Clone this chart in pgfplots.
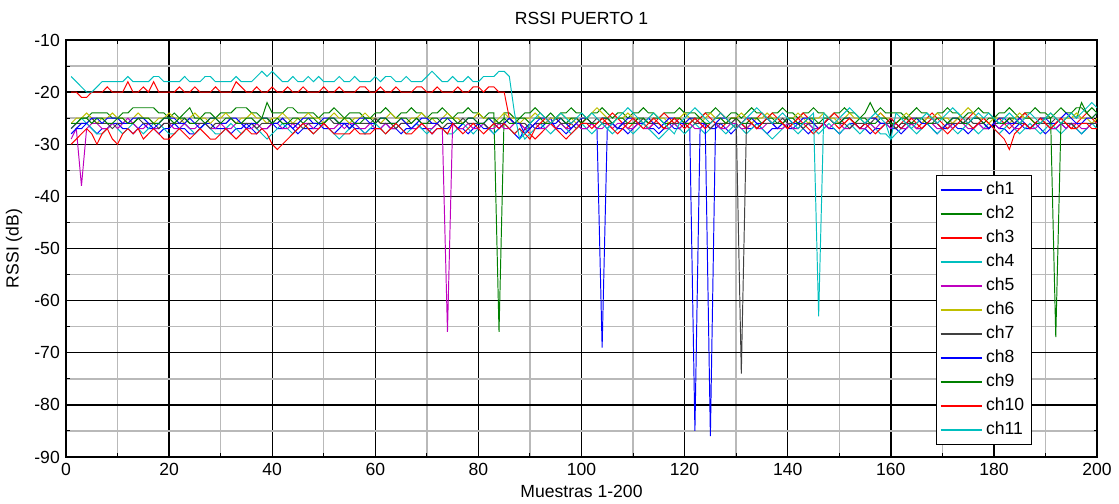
\documentclass[border=0pt]{standalone}
\usepackage{pgfplots}
\usepackage{pgfplotstable}
\pgfplotsset{compat=1.18}
\usepackage{fontspec}
\setmainfont{Liberation Sans}
\definecolor{mblue}{rgb}{0,0,1}
\definecolor{mred}{rgb}{1,0,0}
\definecolor{mgreen}{rgb}{0,0.5,0}
\definecolor{mcyan}{rgb}{0,0.75,0.75}
\definecolor{mmag}{rgb}{0.75,0,0.75}
\definecolor{molive}{rgb}{0.75,0.75,0}
\definecolor{mgray}{rgb}{0.25,0.25,0.25}

\pgfplotstableread[row sep=\\]{y\\
-28\\ -27\\ -27\\ -26\\ -27\\ -28\\ -27\\ -27\\ -26\\ -26\\ -27\\ -27\\ -28\\ -27\\ -26\\ -27\\ -27\\ -28\\ -27\\ -27\\
-26\\ -27\\ -27\\ -28\\ -28\\ -27\\ -26\\ -26\\ -27\\ -27\\ -27\\ -28\\ -27\\ -27\\ -26\\ -27\\ -28\\ -27\\ -27\\ -26\\
-27\\ -27\\ -26\\ -27\\ -28\\ -27\\ -27\\ -27\\ -26\\ -27\\ -27\\ -28\\ -27\\ -26\\ -26\\ -27\\ -27\\ -28\\ -27\\ -27\\
-27\\ -26\\ -27\\ -27\\ -28\\ -27\\ -27\\ -26\\ -27\\ -27\\ -28\\ -27\\ -27\\ -27\\ -26\\ -27\\ -27\\ -28\\ -27\\ -26\\
-27\\ -27\\ -28\\ -27\\ -26\\ -27\\ -28\\ -29\\ -27\\ -26\\ -27\\ -27\\ -26\\ -25\\ -27\\ -27\\ -28\\ -27\\ -26\\ -27\\
-27\\ -26\\ -27\\ -69\\ -27\\ -26\\ -27\\ -27\\ -28\\ -27\\ -26\\ -26\\ -27\\ -27\\ -28\\ -27\\ -26\\ -27\\ -27\\ -26\\
-27\\ -85\\ -27\\ -26\\ -27\\ -27\\ -26\\ -27\\ -28\\ -27\\ -26\\ -27\\ -27\\ -26\\ -27\\ -28\\ -27\\ -27\\ -26\\ -27\\
-27\\ -26\\ -27\\ -28\\ -27\\ -27\\ -26\\ -27\\ -27\\ -28\\ -27\\ -26\\ -26\\ -27\\ -27\\ -28\\ -27\\ -27\\ -26\\ -27\\
-27\\ -28\\ -27\\ -26\\ -27\\ -27\\ -26\\ -27\\ -28\\ -27\\ -27\\ -26\\ -27\\ -27\\ -28\\ -27\\ -26\\ -27\\ -27\\ -26\\
-27\\ -27\\ -28\\ -27\\ -26\\ -27\\ -27\\ -26\\ -27\\ -28\\ -27\\ -27\\ -26\\ -27\\ -26\\ -27\\ -28\\ -27\\ -26\\ -26\\
}\chone

\pgfplotstableread[row sep=\\]{y\\
-27\\ -26\\ -25\\ -25\\ -24\\ -24\\ -24\\ -24\\ -25\\ -25\\ -24\\ -24\\ -23\\ -23\\ -23\\ -23\\ -23\\ -24\\ -24\\ -25\\
-24\\ -25\\ -24\\ -23\\ -25\\ -25\\ -24\\ -24\\ -25\\ -24\\ -24\\ -24\\ -23\\ -23\\ -23\\ -24\\ -24\\ -25\\ -22\\ -24\\
-24\\ -24\\ -23\\ -23\\ -24\\ -24\\ -24\\ -24\\ -25\\ -24\\ -24\\ -23\\ -24\\ -25\\ -24\\ -24\\ -24\\ -25\\ -25\\ -24\\
-24\\ -23\\ -24\\ -25\\ -24\\ -24\\ -23\\ -24\\ -24\\ -25\\ -24\\ -24\\ -23\\ -24\\ -25\\ -24\\ -24\\ -23\\ -24\\ -24\\
-25\\ -24\\ -24\\ -66\\ -24\\ -24\\ -25\\ -25\\ -24\\ -24\\ -23\\ -24\\ -25\\ -24\\ -25\\ -24\\ -24\\ -23\\ -24\\ -24\\
-25\\ -24\\ -24\\ -23\\ -24\\ -25\\ -24\\ -24\\ -25\\ -24\\ -24\\ -23\\ -24\\ -24\\ -25\\ -24\\ -24\\ -24\\ -23\\ -24\\
-24\\ -24\\ -25\\ -24\\ -24\\ -23\\ -24\\ -25\\ -24\\ -24\\ -25\\ -24\\ -23\\ -24\\ -24\\ -25\\ -24\\ -24\\ -23\\ -24\\
-24\\ -25\\ -24\\ -24\\ -23\\ -24\\ -24\\ -25\\ -24\\ -24\\ -23\\ -24\\ -24\\ -25\\ -24\\ -22\\ -24\\ -23\\ -24\\ -24\\
-24\\ -24\\ -25\\ -24\\ -23\\ -24\\ -24\\ -25\\ -24\\ -24\\ -23\\ -24\\ -24\\ -25\\ -24\\ -24\\ -23\\ -24\\ -24\\ -25\\
-24\\ -24\\ -23\\ -24\\ -25\\ -24\\ -24\\ -23\\ -24\\ -24\\ -25\\ -24\\ -23\\ -24\\ -24\\ -25\\ -22\\ -24\\ -23\\ -24\\
}\chtwo

\pgfplotstableread[row sep=\\]{y\\
-20\\ -20\\ -21\\ -21\\ -20\\ -20\\ -20\\ -19\\ -20\\ -20\\ -20\\ -18\\ -20\\ -20\\ -19\\ -20\\ -18\\ -20\\ -20\\ -20\\
-20\\ -19\\ -20\\ -20\\ -19\\ -20\\ -20\\ -20\\ -19\\ -20\\ -20\\ -20\\ -18\\ -19\\ -20\\ -20\\ -19\\ -20\\ -20\\ -19\\
-20\\ -20\\ -19\\ -20\\ -20\\ -19\\ -20\\ -20\\ -20\\ -19\\ -20\\ -20\\ -19\\ -20\\ -20\\ -20\\ -19\\ -19\\ -20\\ -20\\
-19\\ -20\\ -20\\ -19\\ -20\\ -20\\ -20\\ -19\\ -19\\ -20\\ -20\\ -19\\ -20\\ -20\\ -20\\ -19\\ -20\\ -20\\ -19\\ -19\\
-20\\ -19\\ -19\\ -20\\ -20\\ -25\\ -26\\ -26\\ -27\\ -28\\ -29\\ -28\\ -27\\ -26\\ -25\\ -26\\ -27\\ -26\\ -25\\ -26\\
-25\\ -26\\ -27\\ -26\\ -25\\ -24\\ -25\\ -26\\ -27\\ -26\\ -25\\ -26\\ -27\\ -26\\ -25\\ -24\\ -25\\ -26\\ -25\\ -26\\
-27\\ -26\\ -25\\ -24\\ -25\\ -26\\ -27\\ -26\\ -25\\ -25\\ -26\\ -27\\ -26\\ -25\\ -24\\ -25\\ -26\\ -25\\ -26\\ -27\\
-26\\ -25\\ -24\\ -25\\ -26\\ -27\\ -26\\ -25\\ -24\\ -25\\ -26\\ -25\\ -26\\ -27\\ -26\\ -25\\ -25\\ -24\\ -25\\ -26\\
-27\\ -26\\ -25\\ -26\\ -27\\ -26\\ -25\\ -24\\ -25\\ -26\\ -27\\ -26\\ -25\\ -26\\ -25\\ -24\\ -25\\ -26\\ -27\\ -26\\
-25\\ -26\\ -27\\ -26\\ -25\\ -24\\ -25\\ -26\\ -25\\ -26\\ -27\\ -26\\ -25\\ -26\\ -27\\ -26\\ -25\\ -24\\ -25\\ -26\\
}\chthree

\pgfplotstableread[row sep=\\]{y\\
-27\\ -26\\ -25\\ -26\\ -27\\ -28\\ -28\\ -27\\ -26\\ -27\\ -28\\ -27\\ -26\\ -27\\ -28\\ -27\\ -26\\ -26\\ -27\\ -28\\
-28\\ -27\\ -26\\ -27\\ -28\\ -27\\ -26\\ -27\\ -28\\ -28\\ -27\\ -26\\ -27\\ -28\\ -27\\ -26\\ -27\\ -28\\ -29\\ -28\\
-27\\ -26\\ -27\\ -28\\ -27\\ -26\\ -27\\ -28\\ -27\\ -26\\ -27\\ -28\\ -29\\ -28\\ -27\\ -26\\ -27\\ -28\\ -27\\ -26\\
-27\\ -28\\ -27\\ -26\\ -27\\ -28\\ -27\\ -26\\ -27\\ -28\\ -27\\ -26\\ -27\\ -28\\ -28\\ -27\\ -26\\ -27\\ -28\\ -27\\
-26\\ -27\\ -28\\ -27\\ -26\\ -27\\ -28\\ -27\\ -29\\ -28\\ -27\\ -26\\ -27\\ -28\\ -27\\ -26\\ -27\\ -28\\ -27\\ -26\\
-27\\ -28\\ -27\\ -26\\ -27\\ -28\\ -27\\ -26\\ -27\\ -28\\ -27\\ -26\\ -27\\ -28\\ -29\\ -28\\ -27\\ -26\\ -27\\ -28\\
-27\\ -26\\ -27\\ -28\\ -27\\ -26\\ -27\\ -28\\ -27\\ -26\\ -27\\ -28\\ -27\\ -26\\ -27\\ -28\\ -29\\ -28\\ -27\\ -26\\
-27\\ -28\\ -27\\ -26\\ -27\\ -28\\ -27\\ -26\\ -27\\ -28\\ -27\\ -26\\ -27\\ -28\\ -27\\ -26\\ -27\\ -28\\ -28\\ -29\\
-28\\ -27\\ -26\\ -27\\ -28\\ -27\\ -26\\ -27\\ -28\\ -27\\ -26\\ -27\\ -28\\ -27\\ -26\\ -27\\ -28\\ -27\\ -26\\ -27\\
-28\\ -27\\ -26\\ -27\\ -28\\ -27\\ -26\\ -27\\ -28\\ -27\\ -26\\ -27\\ -28\\ -27\\ -26\\ -27\\ -28\\ -27\\ -26\\ -27\\
}\chfour

\pgfplotstableread[row sep=\\]{y\\
-29\\ -27\\ -38\\ -27\\ -26\\ -26\\ -27\\ -27\\ -26\\ -27\\ -26\\ -25\\ -26\\ -27\\ -27\\ -26\\ -27\\ -27\\ -26\\ -26\\
-27\\ -27\\ -26\\ -27\\ -27\\ -26\\ -26\\ -27\\ -27\\ -26\\ -27\\ -27\\ -26\\ -26\\ -27\\ -27\\ -26\\ -27\\ -27\\ -26\\
-26\\ -27\\ -27\\ -26\\ -27\\ -26\\ -26\\ -27\\ -27\\ -26\\ -27\\ -27\\ -26\\ -27\\ -26\\ -26\\ -27\\ -27\\ -26\\ -27\\
-27\\ -26\\ -27\\ -27\\ -26\\ -26\\ -27\\ -27\\ -26\\ -27\\ -27\\ -26\\ -27\\ -66\\ -26\\ -27\\ -27\\ -26\\ -27\\ -27\\
-26\\ -27\\ -27\\ -26\\ -27\\ -27\\ -26\\ -26\\ -27\\ -27\\ -26\\ -27\\ -27\\ -26\\ -27\\ -26\\ -27\\ -27\\ -26\\ -27\\
-27\\ -26\\ -27\\ -27\\ -26\\ -27\\ -26\\ -26\\ -27\\ -27\\ -26\\ -27\\ -27\\ -26\\ -26\\ -27\\ -27\\ -26\\ -27\\ -26\\
-26\\ -27\\ -27\\ -26\\ -27\\ -26\\ -27\\ -27\\ -26\\ -26\\ -27\\ -27\\ -26\\ -27\\ -27\\ -26\\ -26\\ -27\\ -27\\ -26\\
-27\\ -27\\ -26\\ -26\\ -27\\ -27\\ -26\\ -27\\ -26\\ -26\\ -27\\ -27\\ -26\\ -27\\ -27\\ -26\\ -27\\ -26\\ -26\\ -27\\
-26\\ -27\\ -27\\ -26\\ -27\\ -27\\ -26\\ -26\\ -27\\ -27\\ -26\\ -27\\ -26\\ -26\\ -27\\ -27\\ -26\\ -27\\ -27\\ -26\\
-27\\ -26\\ -26\\ -27\\ -27\\ -26\\ -27\\ -27\\ -26\\ -26\\ -27\\ -27\\ -26\\ -27\\ -26\\ -26\\ -27\\ -27\\ -26\\ -26\\
}\chfive

\pgfplotstableread[row sep=\\]{y\\
-26\\ -25\\ -25\\ -24\\ -25\\ -26\\ -25\\ -25\\ -24\\ -25\\ -25\\ -26\\ -25\\ -24\\ -25\\ -25\\ -26\\ -25\\ -25\\ -24\\
-25\\ -25\\ -26\\ -25\\ -24\\ -25\\ -25\\ -26\\ -25\\ -25\\ -24\\ -25\\ -26\\ -25\\ -25\\ -24\\ -25\\ -25\\ -26\\ -25\\
-25\\ -24\\ -25\\ -26\\ -25\\ -25\\ -24\\ -25\\ -25\\ -26\\ -25\\ -24\\ -25\\ -25\\ -26\\ -25\\ -25\\ -24\\ -25\\ -25\\
-26\\ -25\\ -24\\ -25\\ -25\\ -26\\ -25\\ -25\\ -24\\ -25\\ -25\\ -26\\ -25\\ -24\\ -25\\ -25\\ -26\\ -25\\ -25\\ -24\\
-25\\ -25\\ -26\\ -25\\ -24\\ -25\\ -25\\ -26\\ -25\\ -25\\ -24\\ -25\\ -26\\ -25\\ -25\\ -24\\ -25\\ -25\\ -26\\ -25\\
-25\\ -24\\ -23\\ -24\\ -25\\ -26\\ -25\\ -25\\ -24\\ -25\\ -25\\ -26\\ -25\\ -24\\ -25\\ -25\\ -26\\ -25\\ -25\\ -24\\
-25\\ -25\\ -26\\ -25\\ -24\\ -25\\ -25\\ -26\\ -25\\ -25\\ -24\\ -25\\ -26\\ -25\\ -25\\ -24\\ -25\\ -25\\ -26\\ -25\\
-25\\ -24\\ -25\\ -26\\ -25\\ -25\\ -24\\ -25\\ -25\\ -26\\ -25\\ -24\\ -25\\ -25\\ -26\\ -25\\ -25\\ -24\\ -25\\ -25\\
-26\\ -25\\ -24\\ -25\\ -25\\ -26\\ -25\\ -25\\ -24\\ -25\\ -25\\ -26\\ -25\\ -24\\ -23\\ -24\\ -25\\ -25\\ -26\\ -25\\
-25\\ -25\\ -26\\ -25\\ -24\\ -25\\ -25\\ -26\\ -25\\ -25\\ -24\\ -25\\ -26\\ -25\\ -25\\ -24\\ -25\\ -25\\ -26\\ -25\\
}\chsix

\pgfplotstableread[row sep=\\]{y\\
-27\\ -26\\ -26\\ -26\\ -25\\ -26\\ -26\\ -26\\ -27\\ -26\\ -26\\ -26\\ -26\\ -25\\ -26\\ -26\\ -26\\ -27\\ -26\\ -26\\
-26\\ -26\\ -25\\ -26\\ -26\\ -26\\ -26\\ -27\\ -26\\ -26\\ -26\\ -25\\ -26\\ -26\\ -26\\ -26\\ -27\\ -26\\ -26\\ -26\\
-26\\ -25\\ -26\\ -26\\ -26\\ -27\\ -26\\ -26\\ -26\\ -26\\ -25\\ -26\\ -26\\ -26\\ -27\\ -26\\ -26\\ -26\\ -26\\ -25\\
-26\\ -26\\ -26\\ -27\\ -26\\ -26\\ -26\\ -25\\ -26\\ -26\\ -26\\ -26\\ -27\\ -26\\ -26\\ -26\\ -25\\ -26\\ -26\\ -26\\
-26\\ -27\\ -26\\ -26\\ -26\\ -25\\ -26\\ -26\\ -26\\ -27\\ -26\\ -26\\ -26\\ -26\\ -25\\ -26\\ -26\\ -26\\ -27\\ -26\\
-26\\ -26\\ -25\\ -26\\ -26\\ -26\\ -27\\ -26\\ -26\\ -26\\ -26\\ -25\\ -26\\ -26\\ -26\\ -27\\ -26\\ -26\\ -26\\ -26\\
-25\\ -26\\ -26\\ -26\\ -27\\ -26\\ -26\\ -26\\ -26\\ -25\\ -74\\ -26\\ -26\\ -27\\ -26\\ -26\\ -26\\ -26\\ -25\\ -26\\
-26\\ -26\\ -27\\ -26\\ -26\\ -26\\ -26\\ -25\\ -26\\ -26\\ -26\\ -27\\ -26\\ -26\\ -26\\ -26\\ -25\\ -26\\ -26\\ -26\\
-27\\ -26\\ -26\\ -26\\ -26\\ -25\\ -26\\ -26\\ -26\\ -27\\ -26\\ -26\\ -26\\ -26\\ -25\\ -26\\ -26\\ -26\\ -27\\ -26\\
-26\\ -26\\ -25\\ -26\\ -26\\ -26\\ -27\\ -26\\ -26\\ -26\\ -26\\ -25\\ -26\\ -26\\ -26\\ -27\\ -26\\ -26\\ -26\\ -26\\
}\chseven

\pgfplotstableread[row sep=\\]{y\\
-28\\ -27\\ -26\\ -26\\ -25\\ -25\\ -26\\ -25\\ -25\\ -25\\ -26\\ -26\\ -25\\ -25\\ -25\\ -26\\ -27\\ -26\\ -25\\ -25\\
-25\\ -26\\ -26\\ -25\\ -26\\ -27\\ -26\\ -25\\ -25\\ -26\\ -26\\ -25\\ -25\\ -26\\ -27\\ -26\\ -26\\ -25\\ -25\\ -26\\
-26\\ -25\\ -26\\ -27\\ -26\\ -25\\ -25\\ -26\\ -26\\ -25\\ -25\\ -25\\ -26\\ -26\\ -27\\ -26\\ -25\\ -25\\ -26\\ -26\\
-25\\ -25\\ -26\\ -26\\ -25\\ -26\\ -27\\ -26\\ -25\\ -25\\ -26\\ -26\\ -25\\ -25\\ -26\\ -27\\ -26\\ -25\\ -25\\ -26\\
-26\\ -25\\ -26\\ -27\\ -26\\ -25\\ -26\\ -26\\ -28\\ -27\\ -26\\ -25\\ -25\\ -26\\ -26\\ -25\\ -26\\ -27\\ -26\\ -25\\
-25\\ -26\\ -26\\ -25\\ -25\\ -26\\ -27\\ -26\\ -25\\ -25\\ -26\\ -26\\ -25\\ -26\\ -27\\ -26\\ -25\\ -25\\ -26\\ -26\\
-25\\ -25\\ -26\\ -26\\ -86\\ -26\\ -25\\ -25\\ -26\\ -27\\ -26\\ -25\\ -25\\ -26\\ -26\\ -25\\ -26\\ -27\\ -26\\ -25\\
-26\\ -26\\ -25\\ -25\\ -26\\ -27\\ -26\\ -25\\ -26\\ -26\\ -25\\ -25\\ -26\\ -27\\ -26\\ -25\\ -25\\ -26\\ -26\\ -25\\
-26\\ -27\\ -26\\ -25\\ -25\\ -26\\ -26\\ -25\\ -26\\ -27\\ -26\\ -25\\ -25\\ -26\\ -26\\ -25\\ -25\\ -26\\ -27\\ -26\\
-25\\ -25\\ -26\\ -26\\ -25\\ -26\\ -27\\ -26\\ -25\\ -25\\ -26\\ -26\\ -25\\ -24\\ -25\\ -26\\ -26\\ -25\\ -25\\ -24\\
}\cheight

\pgfplotstableread[row sep=\\]{y\\
-26\\ -26\\ -25\\ -25\\ -26\\ -25\\ -25\\ -26\\ -26\\ -25\\ -25\\ -26\\ -26\\ -25\\ -25\\ -25\\ -26\\ -26\\ -25\\ -25\\
-26\\ -25\\ -25\\ -26\\ -26\\ -25\\ -26\\ -25\\ -25\\ -26\\ -25\\ -25\\ -26\\ -26\\ -25\\ -25\\ -26\\ -25\\ -25\\ -26\\
-25\\ -26\\ -26\\ -25\\ -25\\ -26\\ -25\\ -25\\ -26\\ -26\\ -25\\ -25\\ -26\\ -25\\ -25\\ -26\\ -26\\ -25\\ -25\\ -26\\
-25\\ -25\\ -26\\ -26\\ -25\\ -25\\ -26\\ -25\\ -26\\ -26\\ -25\\ -25\\ -26\\ -25\\ -25\\ -26\\ -26\\ -25\\ -25\\ -26\\
-26\\ -25\\ -25\\ -26\\ -25\\ -26\\ -26\\ -25\\ -25\\ -26\\ -25\\ -25\\ -26\\ -26\\ -25\\ -25\\ -26\\ -25\\ -25\\ -26\\
-25\\ -26\\ -26\\ -25\\ -25\\ -26\\ -25\\ -25\\ -26\\ -26\\ -25\\ -25\\ -26\\ -25\\ -25\\ -26\\ -26\\ -25\\ -25\\ -26\\
-26\\ -25\\ -25\\ -26\\ -26\\ -25\\ -25\\ -26\\ -25\\ -25\\ -26\\ -26\\ -25\\ -25\\ -26\\ -25\\ -25\\ -26\\ -26\\ -25\\
-25\\ -26\\ -26\\ -25\\ -25\\ -26\\ -25\\ -25\\ -26\\ -26\\ -25\\ -25\\ -26\\ -25\\ -25\\ -26\\ -26\\ -25\\ -25\\ -26\\
-26\\ -25\\ -25\\ -26\\ -25\\ -25\\ -26\\ -26\\ -25\\ -25\\ -26\\ -25\\ -25\\ -26\\ -26\\ -25\\ -25\\ -26\\ -25\\ -25\\
-26\\ -26\\ -25\\ -25\\ -26\\ -25\\ -25\\ -26\\ -26\\ -25\\ -25\\ -67\\ -26\\ -25\\ -24\\ -23\\ -23\\ -24\\ -25\\ -24\\
}\chnine

\pgfplotstableread[row sep=\\]{y\\
-30\\ -29\\ -28\\ -27\\ -28\\ -30\\ -28\\ -27\\ -29\\ -30\\ -28\\ -27\\ -28\\ -27\\ -29\\ -28\\ -27\\ -28\\ -29\\ -29\\
-28\\ -27\\ -28\\ -29\\ -28\\ -27\\ -28\\ -29\\ -29\\ -28\\ -27\\ -28\\ -29\\ -28\\ -27\\ -28\\ -28\\ -27\\ -28\\ -30\\
-31\\ -30\\ -29\\ -28\\ -27\\ -26\\ -27\\ -28\\ -27\\ -26\\ -27\\ -28\\ -28\\ -28\\ -28\\ -27\\ -28\\ -28\\ -28\\ -27\\
-27\\ -28\\ -27\\ -26\\ -27\\ -28\\ -28\\ -27\\ -26\\ -27\\ -28\\ -27\\ -27\\ -28\\ -26\\ -27\\ -28\\ -27\\ -26\\ -27\\
-28\\ -27\\ -26\\ -27\\ -26\\ -27\\ -28\\ -27\\ -28\\ -29\\ -27\\ -26\\ -25\\ -26\\ -27\\ -28\\ -29\\ -28\\ -27\\ -26\\
-26\\ -27\\ -26\\ -25\\ -26\\ -27\\ -28\\ -27\\ -26\\ -25\\ -26\\ -27\\ -26\\ -25\\ -26\\ -27\\ -26\\ -25\\ -26\\ -27\\
-26\\ -25\\ -26\\ -27\\ -26\\ -25\\ -24\\ -25\\ -26\\ -27\\ -26\\ -25\\ -26\\ -27\\ -26\\ -25\\ -24\\ -25\\ -26\\ -27\\
-26\\ -25\\ -26\\ -27\\ -28\\ -27\\ -26\\ -25\\ -26\\ -27\\ -26\\ -25\\ -26\\ -27\\ -26\\ -27\\ -28\\ -27\\ -26\\ -25\\
-26\\ -27\\ -26\\ -25\\ -26\\ -27\\ -26\\ -25\\ -26\\ -27\\ -28\\ -27\\ -26\\ -25\\ -26\\ -27\\ -26\\ -25\\ -26\\ -27\\
-28\\ -29\\ -31\\ -28\\ -27\\ -26\\ -27\\ -26\\ -25\\ -26\\ -27\\ -26\\ -25\\ -26\\ -27\\ -27\\ -26\\ -26\\ -27\\ -27\\
}\chten

\pgfplotstableread[row sep=\\]{y\\
-17\\ -18\\ -19\\ -20\\ -20\\ -19\\ -18\\ -18\\ -18\\ -18\\ -18\\ -17\\ -18\\ -18\\ -18\\ -18\\ -17\\ -17\\ -18\\ -18\\
-18\\ -18\\ -17\\ -18\\ -18\\ -18\\ -17\\ -17\\ -18\\ -18\\ -18\\ -18\\ -17\\ -18\\ -18\\ -18\\ -17\\ -16\\ -17\\ -16\\
-17\\ -18\\ -18\\ -17\\ -18\\ -18\\ -17\\ -18\\ -17\\ -18\\ -18\\ -18\\ -17\\ -18\\ -18\\ -17\\ -18\\ -18\\ -18\\ -17\\
-18\\ -17\\ -17\\ -18\\ -18\\ -17\\ -18\\ -18\\ -18\\ -17\\ -16\\ -17\\ -18\\ -18\\ -17\\ -18\\ -18\\ -17\\ -18\\ -18\\
-17\\ -17\\ -17\\ -16\\ -16\\ -17\\ -24\\ -29\\ -28\\ -26\\ -25\\ -24\\ -25\\ -26\\ -25\\ -24\\ -25\\ -26\\ -25\\ -24\\
-25\\ -24\\ -25\\ -26\\ -27\\ -26\\ -25\\ -24\\ -23\\ -24\\ -25\\ -26\\ -25\\ -24\\ -25\\ -26\\ -27\\ -28\\ -26\\ -25\\
-24\\ -23\\ -24\\ -25\\ -26\\ -25\\ -24\\ -25\\ -26\\ -27\\ -26\\ -25\\ -24\\ -23\\ -24\\ -25\\ -26\\ -25\\ -24\\ -25\\
-26\\ -27\\ -26\\ -25\\ -24\\ -63\\ -24\\ -25\\ -26\\ -25\\ -24\\ -23\\ -24\\ -25\\ -26\\ -25\\ -24\\ -25\\ -26\\ -29\\
-24\\ -25\\ -26\\ -27\\ -26\\ -25\\ -24\\ -25\\ -26\\ -25\\ -24\\ -23\\ -24\\ -25\\ -26\\ -25\\ -24\\ -25\\ -24\\ -25\\
-26\\ -25\\ -24\\ -25\\ -26\\ -25\\ -24\\ -25\\ -26\\ -25\\ -24\\ -25\\ -26\\ -25\\ -24\\ -25\\ -24\\ -23\\ -22\\ -23\\
}\cheleven

\begin{document}
\begin{tikzpicture}
\begin{axis}[
  at={(0,0)}, anchor=south west,
  scale only axis,
  width=20.62cm, height=8.34cm,
  xmin=0, xmax=200, ymin=-90, ymax=-10,
  xtick={0,20,...,200}, ytick={-90,-80,...,-10},
  minor x tick num=1, minor y tick num=1,
  grid=both,
  major grid style={black, line width=0.8pt},
  minor grid style={gray!55, line width=0.8pt},
  axis line style={black, line width=0.8pt},
  tick align=inside,
  major tick length=4pt, minor tick length=2pt,
  tick style={black, line width=0.6pt},
  /pgf/number format/assume math mode=true,
  ticklabel style={font=\fontsize{10}{12}\selectfont},
  title={RSSI PUERTO 1},
  title style={font=\fontsize{10}{12}\selectfont, yshift=-1pt},
  xlabel={Muestras 1-200},
  ylabel={RSSI (dB)},
  label style={font=\fontsize{10}{12}\selectfont},
  xlabel style={yshift=1.5pt},
  every axis plot/.append style={line width=0.55pt},
  legend style={at={(0.9367,0.029)}, anchor=south east, draw=black, line width=0.6pt, fill=white,
    font=\fontsize{10}{12}\selectfont, row sep=0.9pt, inner sep=2pt},
  legend cell align=left,
  legend image code/.code={\draw[#1] (0cm,0cm) -- (0.82cm,0cm);},
  legend image post style={line width=1.1pt},
]
\addplot[mblue] table[x expr=\coordindex+1, y=y] {\chone};
\addplot[mgreen] table[x expr=\coordindex+1, y=y] {\chtwo};
\addplot[mred] table[x expr=\coordindex+1, y=y] {\chthree};
\addplot[mcyan] table[x expr=\coordindex+1, y=y] {\chfour};
\addplot[mmag] table[x expr=\coordindex+1, y=y] {\chfive};
\addplot[molive] table[x expr=\coordindex+1, y=y] {\chsix};
\addplot[mgray] table[x expr=\coordindex+1, y=y] {\chseven};
\addplot[mblue] table[x expr=\coordindex+1, y=y] {\cheight};
\addplot[mgreen] table[x expr=\coordindex+1, y=y] {\chnine};
\addplot[mred] table[x expr=\coordindex+1, y=y] {\chten};
\addplot[mcyan] table[x expr=\coordindex+1, y=y] {\cheleven};
\legend{ch1,ch2,ch3,ch4,ch5,ch6,ch7,ch8,ch9,ch10,ch11}
\end{axis}
\useasboundingbox (-1.32cm,-0.88cm) rectangle (21.06cm,9.14cm);
\end{tikzpicture}
\end{document}
